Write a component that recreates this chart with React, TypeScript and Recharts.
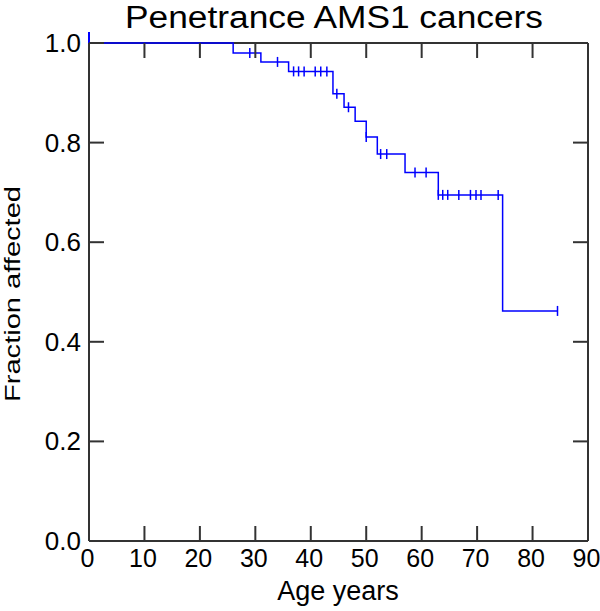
import React from 'react';
import { ComposedChart, Line, Scatter, XAxis, YAxis } from 'recharts';

// Kaplan-Meier step points (age, fraction affected)
const ages = [0, 26, 31, 36, 44, 46, 48, 50, 52, 57, 63, 74.6, 84.5];
const fractions = [1.0, 0.98, 0.962, 0.943, 0.898, 0.871, 0.843, 0.811, 0.777, 0.74, 0.695, 0.462, 0.462];
// censored observations (ages)
const censorAges = [29, 34, 36.9, 37.8, 38.8, 40.8, 41.8, 42.9, 44.7, 46.8, 50, 52.6, 53.7, 58.8, 60.8, 63, 63.8, 64.7, 66.7, 68.8, 69.8, 70.7, 73.8, 84.5];
const startAges = [0];
const xTicks = [0, 10, 20, 30, 40, 50, 60, 70, 80, 90];
const yTicks = [0, 0.2, 0.4, 0.6, 0.8, 1.0];
const yTickLabels = ['0.0', '0.2', '0.4', '0.6', '0.8', '1.0'];

const stepData = ages.map((a, i) => ({ age: a, frac: fractions[i] }));
const levelAt = (a: number) => {
  let v = fractions[0];
  for (let i = 0; i < ages.length; i++) if (a >= ages[i]) v = fractions[i];
  return v;
};
const censorData = censorAges.map((a) => ({ age: a, frac: levelAt(a) }));
const startData = startAges.map((a) => ({ age: a, frac: levelAt(a) }));

const AX = '#333333';
const BLUE = '#0000ff';
const FONT = '"Liberation Sans", Arial, sans-serif';

const BottomTick = (p: any) => (
  <g>
    <line x1={p.x} x2={p.x} y1={p.y} y2={p.y - 15} stroke={AX} strokeWidth={2} />
    <text x={p.x - 1.5} y={p.y + 26} textAnchor="middle" fontSize={25} fontFamily={FONT} fill="#000">
      {p.payload.value}
    </text>
  </g>
);
const TopTick = (p: any) => (
  <line x1={p.x} x2={p.x} y1={p.y} y2={p.y + 15} stroke={AX} strokeWidth={2} />
);
const LeftTick = (p: any) => (
  <g>
    <line x1={p.x} x2={p.x + 15} y1={p.y} y2={p.y} stroke={AX} strokeWidth={2} />
    <text x={p.x - 8} y={p.y + 9} textAnchor="end" fontSize={26} fontFamily={FONT} fill="#000">
      {yTickLabels[yTicks.indexOf(p.payload.value)]}
    </text>
  </g>
);
const RightTick = (p: any) => (
  <line x1={p.x} x2={p.x - 15} y1={p.y} y2={p.y} stroke={AX} strokeWidth={2} />
);

const CensorMark = (p: any) => (
  <line x1={p.cx} x2={p.cx} y1={p.cy - 5} y2={p.cy + 5} stroke={BLUE} strokeWidth={1.5} />
);
const StartMark = (p: any) => (
  <line x1={p.cx} x2={p.cx} y1={p.cy - 11} y2={p.cy + 1} stroke={BLUE} strokeWidth={2} />
);

export default function App() {
  return (
    <div style={{ position: 'absolute', left: 0, top: 0, width: 600, height: 611, background: '#fff' }}>
      <ComposedChart
        width={600}
        height={611}
        margin={{ top: 42, right: 11, bottom: 0, left: 0 }}
        style={{ position: 'absolute', left: 0, top: 0 }}
      >
        <XAxis
          xAxisId="b"
          type="number"
          dataKey="age"
          domain={[0, 90]}
          ticks={xTicks}
          interval={0}
          orientation="bottom"
          height={70}
          tickSize={0}
          tickMargin={0}
          tickLine={false}
          axisLine={{ stroke: AX, strokeWidth: 2 }}
          tick={<BottomTick />}
        />
        <XAxis
          xAxisId="t"
          type="number"
          dataKey="age"
          domain={[0, 90]}
          ticks={xTicks}
          interval={0}
          orientation="top"
          height={1}
          tickSize={0}
          tickMargin={0}
          tickLine={false}
          axisLine={{ stroke: AX, strokeWidth: 2 }}
          tick={<TopTick />}
        />
        <YAxis
          yAxisId="l"
          type="number"
          domain={[0, 1]}
          ticks={yTicks}
          interval={0}
          orientation="left"
          width={89}
          tickSize={0}
          tickMargin={0}
          tickLine={false}
          axisLine={{ stroke: AX, strokeWidth: 2 }}
          tick={<LeftTick />}
        />
        <YAxis
          yAxisId="r"
          type="number"
          domain={[0, 1]}
          ticks={yTicks}
          interval={0}
          orientation="right"
          width={1}
          tickSize={0}
          tickMargin={0}
          tickLine={false}
          axisLine={{ stroke: AX, strokeWidth: 2 }}
          tick={<RightTick />}
        />
        <Line
          xAxisId="t"
          yAxisId="r"
          data={stepData}
          dataKey="frac"
          stroke="none"
          dot={false}
          activeDot={false}
          isAnimationActive={false}
        />
        <Line
          xAxisId="b"
          yAxisId="l"
          data={stepData}
          dataKey="frac"
          type="stepAfter"
          stroke={BLUE}
          strokeWidth={1.5}
          dot={false}
          activeDot={false}
          isAnimationActive={false}
          {...({ zIndex: 700 } as any)}
        />
        <Scatter
          xAxisId="b"
          yAxisId="l"
          data={censorData}
          dataKey="frac"
          shape={<CensorMark />}
          isAnimationActive={false}
        />
        <Scatter
          xAxisId="b"
          yAxisId="l"
          data={startData}
          dataKey="frac"
          shape={<StartMark />}
          isAnimationActive={false}
        />
      </ComposedChart>
      <svg width={600} height={611} style={{ position: 'absolute', left: 0, top: 0, pointerEvents: 'none' }}>
        <text
          x={125}
          y={28}
          textAnchor="start"
          fontSize={31}
          fontFamily={FONT}
          fill="#000"
          textLength={418}
          lengthAdjust="spacingAndGlyphs"
        >
          Penetrance AMS1 cancers
        </text>
        <text x={338} y={600} textAnchor="middle" fontSize={27} fontFamily={FONT} fill="#000">
          Age years
        </text>
        <text
          transform="translate(20, 294) rotate(-90)"
          x={0}
          y={0}
          textAnchor="middle"
          fontSize={22}
          fontFamily={FONT}
          fill="#000"
          textLength={216}
          lengthAdjust="spacingAndGlyphs"
        >
          Fraction affected
        </text>
      </svg>
    </div>
  );
}
